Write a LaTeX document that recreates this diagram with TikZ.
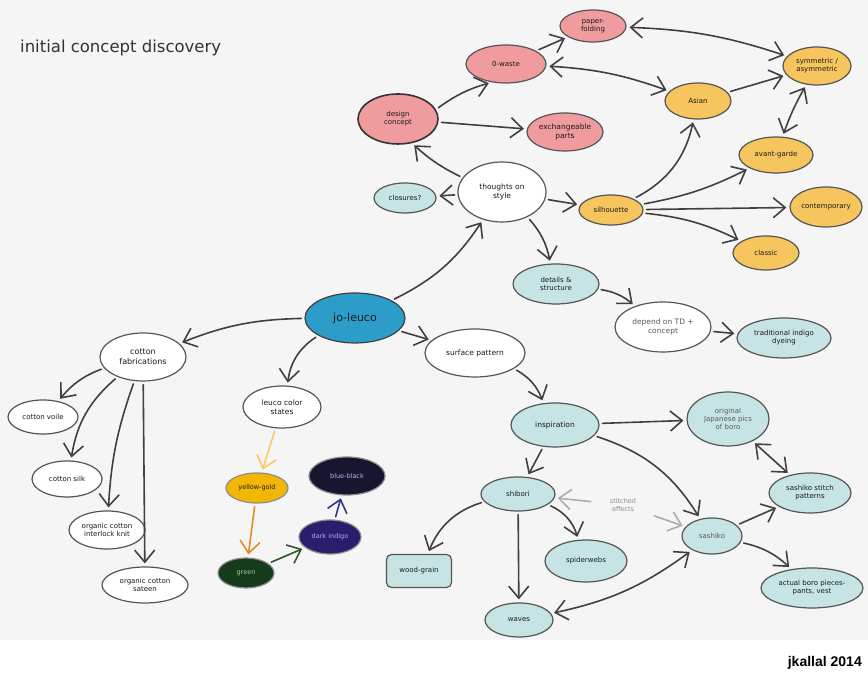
\documentclass[tikz,border=0pt]{standalone}
\usepackage{fontspec}
\setmainfont{DejaVu Sans}
\newfontfamily\arialf{Liberation Sans}
\usetikzlibrary{arrows.meta,shapes.geometric}
\definecolor{bgc}{HTML}{F5F5F5}
\definecolor{bord}{HTML}{555555}
\definecolor{txt}{HTML}{1A1A1A}
\definecolor{arrc}{HTML}{404040}
\definecolor{pinkc}{HTML}{F09C9E}
\definecolor{yellc}{HTML}{F7C55E}
\definecolor{tealc}{HTML}{C7E4E4}
\definecolor{joc}{HTML}{2C9DC8}
\definecolor{ygc}{HTML}{F2B705}
\definecolor{grc}{HTML}{163A1C}
\definecolor{grt}{HTML}{9FC79A}
\definecolor{dic}{HTML}{2A1E6C}
\definecolor{dit}{HTML}{A9B2F2}
\definecolor{bbc}{HTML}{17162F}
\definecolor{bbt}{HTML}{B0B8E8}
\definecolor{lorange}{HTML}{FFC867}
\definecolor{dorange}{HTML}{E38B25}
\definecolor{garr}{HTML}{2F5A2F}
\definecolor{barr}{HTML}{2E3590}
\definecolor{stg}{HTML}{8A8A8A}
\begin{document}
\begin{tikzpicture}[x=1pt,y=1pt,
  base/.style={ellipse, draw=bord, line width=1.2pt, inner sep=0pt, align=center,
     font=\fontsize{7}{8}\selectfont, text=txt},
  sz/.style 2 args={minimum width=#1, minimum height=#2},
  pinkn/.style={base, fill=pinkc},
  yelln/.style={base, fill=yellc},
  tealn/.style={base, fill=tealc},
  whiten/.style={base, fill=white},
  arr/.style={draw=arrc, line width=1.6pt, line cap=round, shorten >=3pt, shorten <=3pt,
     -{Straight Barb[length=12pt,width=20pt,line width=1.6pt]}},
  darr/.style={arr, {Straight Barb[length=12pt,width=20pt,line width=1.6pt]}-{Straight Barb[length=12pt,width=20pt,line width=1.6pt]}},
  lightarr/.style={arr, draw=stg!70, shorten <=18pt}
]
\useasboundingbox (0,0) rectangle (868,676);
\fill[white] (0,0) rectangle (868,676);
\fill[bgc] (0,36) rectangle (868,676);

% title and signature
\node[anchor=west, text=black!80, font=\fontsize{16.5}{18}\selectfont, inner sep=0pt] (title) at (20,628) {initial concept discovery};
\node[anchor=east, font=\arialf\bfseries\fontsize{14}{16}\selectfont, inner sep=0pt] (sig) at (862,13) {jkallal 2014};

% style branch
\node[pinkn, sz={80}{50}, draw=black!80, line width=1.6pt] (dc) at (398,557) {design\\concept};
\node[pinkn, sz={80}{38}] (zw) at (506,612) {0-waste};
\node[pinkn, sz={66}{32}] (pf) at (593,650) {paper-\\folding};
\node[pinkn, sz={76}{38}, font=\fontsize{7.5}{9}\selectfont] (ex) at (565,544) {exchangeable\\parts};
\node[whiten, sz={88}{60}, font=\fontsize{7.5}{9}\selectfont] (ts) at (502,484) {thoughts on\\style};
\node[tealn, sz={62}{30}] (cl) at (405,478) {closures?};
\node[yelln, sz={64}{30}] (si) at (611,466) {silhouette};
\node[yelln, sz={66}{36}] (asian) at (698,575) {Asian};
\node[yelln, sz={68}{38}] (sy) at (817,610) {symmetric /\\asymmetric};
\node[yelln, sz={74}{36}] (ag) at (776,521) {avant-garde};
\node[yelln, sz={72}{40}] (co) at (826,469) {contemporary};
\node[yelln, sz={66}{34}] (classic) at (766,423) {classic};
\node[tealn, sz={86}{40}] (de) at (556,392) {details \&\\structure};
\node[whiten, sz={96}{50}, text=black!65, font=\fontsize{7.5}{9}\selectfont] (dp) at (663,349) {depend on TD +\\concept};
\node[tealn, sz={94}{40}] (tr) at (784,338) {traditional indigo\\dyeing};

% centre
\node[base, fill=joc, draw=black!75, sz={100}{50}, font=\fontsize{11}{12}\selectfont] (jo) at (355,358) {jo-leuco};

% fabrics
\node[whiten, sz={86}{48}, font=\fontsize{8}{9.5}\selectfont] (cf) at (143,319) {cotton\\fabrications};
\node[whiten, sz={70}{34}] (cv) at (43,259) {cotton voile};
\node[whiten, sz={70}{36}] (ck) at (67,197) {cotton silk};
\node[whiten, sz={76}{38}] (oi) at (107,146) {organic cotton\\interlock knit};
\node[whiten, sz={86}{36}] (os) at (145,91) {organic cotton\\sateen};

% colour states
\node[whiten, sz={78}{42}, font=\fontsize{7.5}{9}\selectfont] (lc) at (282,269) {leuco color\\states};
\node[base, fill=ygc, draw=black!45, sz={62}{30}, font=\fontsize{6.5}{8}\selectfont] (yg) at (257,188) {yellow-gold};
\node[base, fill=grc, draw=black!45, text=grt, sz={56}{30}, font=\fontsize{6.5}{8}\selectfont] (gr) at (246,103) {green};
\node[base, fill=dic, draw=black!45, text=dit, sz={62}{34}, font=\fontsize{6.5}{8}\selectfont] (di) at (330,139) {dark indigo};
\node[base, fill=bbc, draw=black!45, text=bbt, sz={76}{38}, font=\fontsize{6.5}{8}\selectfont] (bb) at (347,200) {blue-black};

% surface pattern
\node[whiten, sz={100}{48}, font=\fontsize{7.5}{9}\selectfont] (sp) at (475,323) {surface pattern};
\node[tealn, sz={88}{44}, font=\fontsize{7.5}{9}\selectfont] (insp) at (555,251) {inspiration};
\node[tealn, sz={82}{54}, text=black!65] (oj) at (728,257) {original\\Japanese pics\\of boro};
\node[tealn, sz={74}{34}] (sh) at (518,182) {shibori};
\node[draw=bord, line width=1.2pt, fill=tealc, rounded corners=5pt, minimum width=65, minimum height=33, inner sep=0pt, font=\fontsize{7}{8}\selectfont, text=txt] (wg) at (419,105) {wood-grain};
\node[tealn, sz={82}{42}] (sw) at (586,115) {spiderwebs};
\node[tealn, sz={68}{34}] (wv) at (519,56) {waves};
\node[tealn, sz={60}{36}, text=black!65] (sa) at (712,140) {sashiko};
\node[tealn, sz={82}{40}] (ss) at (810,183) {sashiko stitch\\patterns};
\node[tealn, sz={102}{40}] (ab) at (812,88) {actual boro pieces-\\pants, vest};
\node[align=center, text=stg, font=\fontsize{6.5}{8}\selectfont, inner sep=1pt] (st) at (623,171) {stitched\\effects};

% connectors: style branch
\draw[arr] (jo) to[bend right=15] (ts);
\draw[arr] (ts.160) to[bend left=8] (dc.300);
\draw[arr] (ts) -- (cl);
\draw[arr] (ts) -- (si);
\draw[arr] (ts) to[bend left=15] (de);
\draw[arr] (dc.14) to[bend left=10] (zw.232);
\draw[arr] (dc) -- (ex);
\draw[arr] (zw) -- (pf);
\draw[darr] (zw) to[bend left=8] (asian);
\draw[darr] (pf) to[bend left=8] (sy);
\draw[arr] (asian) -- (sy);
\draw[darr] (ag) to[bend left=5] (sy);
\draw[arr] (si) to[bend right=25] (asian);
\draw[arr] (si) to[bend right=8] (ag);
\draw[arr] (si) -- (co);
\draw[arr] (si) to[bend left=10] (classic);
\draw[arr] (de) to[bend left=15] (dp);
\draw[arr] (dp) -- (tr);

% fabrics
\draw[arr] (jo) to[bend right=10] (cf);
\draw[arr] (cf) to[bend right=15] (cv);
\draw[arr] (cf) to[bend right=20] (ck);
\draw[arr] (cf) to[bend right=8] (oi);
\draw[arr] (cf) -- (os);

% colour states
\draw[arr] (jo) to[bend right=25] (lc);
\draw[arr, draw=lorange] (lc) -- (yg);
\draw[arr, draw=dorange] (yg) -- (gr);
\draw[arr, draw=garr] (gr) -- (di);
\draw[arr, draw=barr] (di) -- (bb);

% surface pattern
\draw[arr] (jo) -- (sp);
\draw[arr] (sp) to[bend left=20] (insp);
\draw[arr] (insp) -- (oj);
\draw[arr] (insp) -- (sh);
\draw[arr] (insp) to[bend left=20] (sa);
\draw[darr] (oj) -- (ss);
\draw[arr] (sh) to[bend right=25] (wg);
\draw[arr] (sh) -- (wv);
\draw[arr] (sh) to[bend left=25] (sw);
\draw[lightarr] (st) -- (sh);
\draw[lightarr] (st) -- (sa);
\draw[arr] (sa) -- (ss);
\draw[arr] (sa) to[bend left=15] (ab);
\draw[darr] (sa) to[bend left=12] (wv);
\end{tikzpicture}
\end{document}
